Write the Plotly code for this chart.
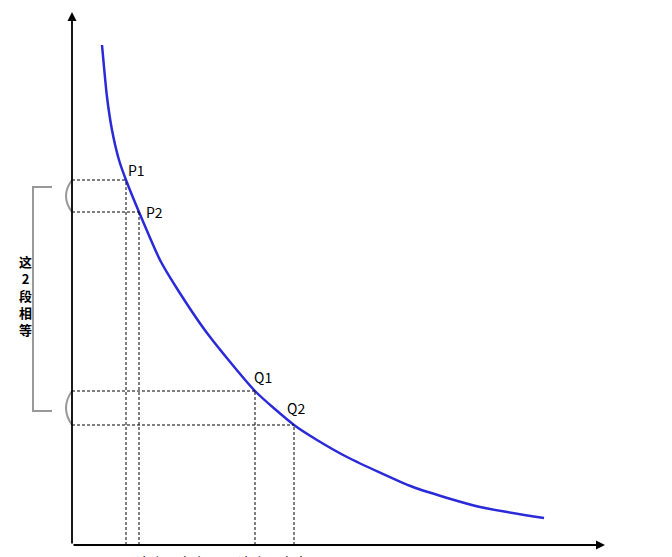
import plotly.graph_objects as go

# Demand-like curve (data units: x from y-axis, y up from x-axis)
curve_x = [30, 35, 40, 47, 54, 67, 88, 104, 135, 183, 222, 245, 275, 341, 408, 472]
curve_y = [500, 448, 415, 385, 365, 333, 285, 258, 212, 154, 120, 105, 88, 58, 38, 27]

point_names = ["P1", "P2", "Q1", "Q2"]
point_x = [54, 67, 183, 222]
point_y = [365, 333, 154, 120]

bottom_labels = ["这个距离小", "这个距离大"]
side_chars = ["这", "2", "段", "相", "等"]
top_label = "商品价格 边际效用"

W, H = 672, 557
L, B = 72, 12
PW, PH = 600, 545

def px(xp):
    return (xp - L) / PW

def py(yp):
    return (H - B - yp) / PH

fig = go.Figure()
fig.add_trace(go.Scatter(
    x=curve_x, y=curve_y, mode="lines",
    line=dict(color="#2a2ad8", width=2.5, shape="spline", smoothing=0.6),
    hoverinfo="skip", showlegend=False))

shapes = []
dash = dict(color="black", width=1, dash="3px,2px")
for nx, ny in zip(point_x, point_y):
    shapes.append(dict(type="line", xref="x", yref="y", x0=0, x1=nx, y0=ny, y1=ny, line=dash))
    shapes.append(dict(type="line", xref="x", yref="y", x0=nx, x1=nx, y0=0, y1=ny, line=dash))

grey = dict(color="#999999", width=2)
# bracket
shapes.append(dict(type="path", xref="paper", yref="paper",
                   path=f"M {px(52)} {py(187)} L {px(33)} {py(187)} L {px(33)} {py(411)} L {px(52)} {py(411)}",
                   line=grey))
# small arcs
for (a, b) in [(point_y[0], point_y[1]), (point_y[2], point_y[3])]:
    ya = H - B - a
    yb = H - B - b
    ym = (ya + yb) / 2
    shapes.append(dict(type="path", xref="paper", yref="paper",
                       path=f"M {px(72)} {py(ya)} Q {px(60)} {py(ym)} {px(72)} {py(yb)}",
                       line=grey))
fig.update_layout(shapes=shapes)

ann = []
# axes with arrows
ann.append(dict(x=533, y=0, ax=0, ay=0, xref="x", yref="y", axref="x", ayref="y",
                showarrow=True, arrowhead=2, arrowsize=1, arrowwidth=1.8, arrowcolor="black", text=""))
ann.append(dict(x=0, y=533, ax=0, ay=0, xref="x", yref="y", axref="x", ayref="y",
                showarrow=True, arrowhead=2, arrowsize=1, arrowwidth=1.8, arrowcolor="black", text=""))
font = dict(family="Noto Sans CJK SC", size=14, color="black")
offsets = [(0, 10), (5, 0), (-3, 14), (-9, 17)]
for name, nx, ny, (dx, dy) in zip(point_names, point_x, point_y, offsets):
    ann.append(dict(x=nx, y=ny, xref="x", yref="y", text=name, showarrow=False,
                    xanchor="left", yanchor="middle", xshift=dx, yshift=dy, font=font))
ann.append(dict(x=px(17), y=py(295), xref="paper", yref="paper",
                text="<br>".join(f"<b>{c}</b>" for c in side_chars), showarrow=False,
                font=dict(family="Noto Sans CJK SC", size=13, color="black"), align="center"))
for lbl, cx in zip(bottom_labels, [134, 273]):
    ann.append(dict(x=px(cx), y=py(550), xref="paper", yref="paper", text=lbl, showarrow=False,
                    yanchor="top", font=dict(family="Noto Sans CJK SC", size=14, color="black")))
ann.append(dict(x=px(12), y=py(4), xref="paper", yref="paper", text=top_label, showarrow=False,
                xanchor="left", yanchor="bottom",
                font=dict(family="Noto Sans CJK SC", size=14, color="black")))
fig.update_layout(annotations=ann)

fig.update_xaxes(range=[0, PW], visible=False, showgrid=False, zeroline=False)
fig.update_yaxes(range=[0, PH], visible=False, showgrid=False, zeroline=False)
fig.update_layout(width=W, height=H, margin=dict(l=L, r=0, t=0, b=B),
                  plot_bgcolor="white", paper_bgcolor="white", showlegend=False)
fig.write_html("out.html", config={"displayModeBar": False},
               post_script="document.body.style.margin='0';")
